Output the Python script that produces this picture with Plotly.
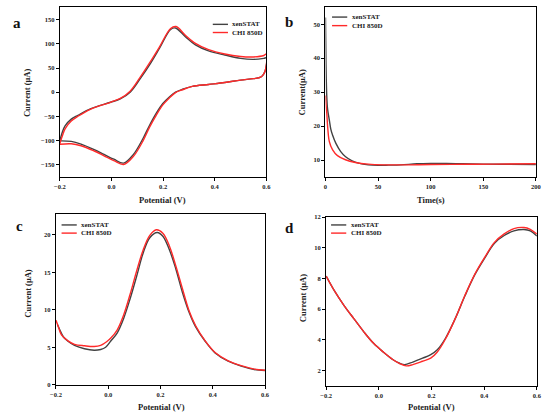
import plotly.graph_objects as go
from plotly.subplots import make_subplots

W, H = 550, 419
SERIF = "Liberation Serif"
GRAY = "#424242"
RED = "#ff2a2a"
names = ["xenSTAT", "CHI 850D"]

# ---- (a) cyclic voltammetry ----
cv_v_xen = [-0.2, -0.19, -0.18, -0.156, -0.13, -0.08, -0.004, 0.034, 0.072, 0.11, 0.148, 0.186,
            0.229, 0.248, 0.286, 0.325, 0.376, 0.439, 0.5, 0.55, 0.59, 0.6,
            0.598, 0.59, 0.578, 0.55, 0.5, 0.439, 0.376, 0.313, 0.275, 0.248, 0.222, 0.198,
            0.173, 0.148, 0.123, 0.085, 0.047, 0.009, -0.029, -0.067, -0.118, -0.156, -0.2]
cv_i_xen = [-100, -82, -70, -56, -48, -34, -21, -14, 0, 27, 57, 91,
            130, 133, 115, 98, 85.5, 77, 70, 68, 70, 71,
            50, 38, 31, 28, 25, 20, 16, 12, 6, 0, -11, -24,
            -44, -68, -95, -129, -147, -139, -129, -119, -107.6, -102, -101]
cv_v_chi = [-0.2, -0.19, -0.18, -0.156, -0.13, -0.08, -0.004, 0.034, 0.072, 0.11, 0.148, 0.186,
            0.229, 0.25, 0.286, 0.325, 0.376, 0.439, 0.5, 0.55, 0.59, 0.6,
            0.598, 0.59, 0.578, 0.55, 0.5, 0.439, 0.376, 0.313, 0.275, 0.248, 0.222, 0.198,
            0.173, 0.148, 0.123, 0.085, 0.047, 0.009, -0.029, -0.067, -0.118, -0.156, -0.2]
cv_i_chi = [-106, -90, -76, -60, -50, -35, -21, -13, 2, 30, 61, 94,
            132, 136, 118, 101, 88, 79, 74, 73, 76, 79,
            50, 38, 31, 28, 25, 20, 16, 12, 5, -1, -13, -27,
            -48, -72, -100, -133, -150, -142, -132, -122, -111, -107, -108]

# ---- (b) chronoamperometry ----
ca_t_xen = [0, 0.5, 1.2, 2, 3.7, 5, 6.8, 9.9, 14.5, 19.1, 25.3, 31.5, 40.7, 50, 60, 71.6, 87,
            100, 115, 130, 150, 175, 200]
ca_i_xen = [52, 38, 29, 25, 21.7, 19.2, 17.3, 14.9, 12.5, 11, 9.8, 9.1, 8.6, 8.45, 8.5, 8.6, 8.9,
            9.0, 9.0, 8.9, 8.8, 8.75, 8.7]
ca_t_chi = [0, 0.5, 1.2, 2.2, 3.7, 6.8, 11.4, 19, 28.4, 40.7, 56, 80, 100, 130, 160, 200]
ca_i_chi = [29, 26.5, 24, 19.3, 15.4, 13, 11.3, 10.1, 9.3, 8.8, 8.6, 8.6, 8.7, 8.75, 8.8, 8.9]

# ---- (c) DPV ----
dpv_v_xen = [-0.194, -0.185, -0.172, -0.154, -0.129, -0.091, -0.054, -0.029, -0.01, 0.009, 0.034,
             0.059, 0.084, 0.109, 0.134, 0.159, 0.1875, 0.209, 0.234, 0.259, 0.284, 0.309, 0.334,
             0.371, 0.409, 0.459, 0.509, 0.559, 0.6]
dpv_i_xen = [8.0, 7.3, 6.4, 5.8, 5.25, 4.8, 4.6, 4.7, 5.0, 5.8, 6.9,
             8.85, 11.5, 14.5, 17.6, 19.6, 20.3, 19.8, 18.0, 15.4, 12.3, 9.7, 7.75,
             5.8, 4.25, 3.15, 2.5, 2.05, 1.9]
dpv_v_chi = [-0.2, -0.191, -0.179, -0.154, -0.129, -0.091, -0.054, -0.029, -0.004, 0.009, 0.034,
             0.059, 0.084, 0.109, 0.134, 0.159, 0.184, 0.209, 0.234, 0.259, 0.284, 0.309, 0.334,
             0.371, 0.409, 0.459, 0.509, 0.559, 0.6]
dpv_i_chi = [8.6, 7.75, 6.65, 5.85, 5.4, 5.2, 5.1, 5.25, 5.8, 6.2, 7.3,
             9.3, 12.1, 15.2, 18.0, 19.9, 20.65, 20.2, 18.5, 15.8, 12.8, 9.9, 7.9,
             5.85, 4.3, 3.2, 2.55, 2.1, 1.95]

# ---- (d) SWV ----
swv_v_xen = [-0.2, -0.169, -0.132, -0.095, -0.057, -0.02, 0.017, 0.054, 0.079, 0.098, 0.129,
             0.166, 0.197, 0.222, 0.253, 0.29, 0.327, 0.365, 0.402, 0.439, 0.476, 0.513, 0.551,
             0.575, 0.6]
swv_i_xen = [8.15, 7.2, 6.23, 5.38, 4.52, 3.77, 3.2, 2.7, 2.47, 2.38, 2.55,
             2.8, 3.03, 3.35, 4.1, 5.38, 6.87, 8.26, 9.33, 10.3, 10.8, 11.1, 11.19,
             11.1, 10.76]
swv_v_chi = [-0.2, -0.169, -0.132, -0.095, -0.057, -0.02, 0.017, 0.054, 0.079, 0.104, 0.129,
             0.166, 0.197, 0.222, 0.253, 0.29, 0.327, 0.365, 0.402, 0.439, 0.476, 0.513, 0.551,
             0.575, 0.6]
swv_i_chi = [8.15, 7.2, 6.23, 5.38, 4.52, 3.77, 3.2, 2.7, 2.45, 2.3, 2.38,
             2.6, 2.8, 3.2, 4.05, 5.38, 6.9, 8.3, 9.38, 10.35, 10.9, 11.25, 11.32,
             11.2, 10.9]


def px(x):
    return x / W


def py(y):
    return 1 - y / H


fig = make_subplots(rows=2, cols=2)

panels = [
    (1, 1, (cv_v_xen, cv_i_xen), (cv_v_chi, cv_i_chi)),
    (1, 2, (ca_t_xen, ca_i_xen), (ca_t_chi, ca_i_chi)),
    (2, 1, (dpv_v_xen, dpv_i_xen), (dpv_v_chi, dpv_i_chi)),
    (2, 2, (swv_v_xen, swv_i_xen), (swv_v_chi, swv_i_chi)),
]
for r, c, xen, chi in panels:
    fig.add_trace(go.Scatter(x=xen[0], y=xen[1], mode="lines", name=names[0],
                             line=dict(color=GRAY, width=1.4, shape="spline", smoothing=1.0),
                             showlegend=False), row=r, col=c)
    fig.add_trace(go.Scatter(x=chi[0], y=chi[1], mode="lines", name=names[1],
                             line=dict(color=RED, width=1.4, shape="spline", smoothing=1.0),
                             showlegend=False), row=r, col=c)

axis_style = dict(showline=True, mirror=True, linecolor="black", linewidth=1.2,
                  ticks="outside", ticklen=3, tickwidth=1, tickcolor="black",
                  showgrid=False, zeroline=False,
                  tickfont=dict(family=SERIF, size=6.5, color="#222", weight="bold"))

fig.update_layout(
    xaxis=dict(axis_style, domain=[px(55), px(265.7)], range=[-0.2, 0.6], dtick=0.2, tickformat=".1f"),
    yaxis=dict(axis_style, domain=[py(176), py(3.3)], range=[-176, 176], dtick=50),
    xaxis2=dict(axis_style, domain=[px(326), px(540.7)], range=[0, 200], dtick=50),
    yaxis2=dict(axis_style, domain=[py(176), py(3.3)], range=[5, 55], dtick=10),
    xaxis3=dict(axis_style, domain=[px(51), px(264.3)], range=[-0.2, 0.6], dtick=0.2, tickformat=".1f"),
    yaxis3=dict(axis_style, domain=[py(387.3), py(214)], range=[0, 22.7], dtick=5),
    xaxis4=dict(axis_style, domain=[px(326.7), px(541.7)], range=[-0.2, 0.6], dtick=0.2, tickformat=".1f"),
    yaxis4=dict(axis_style, domain=[py(388.3), py(216.7)], range=[1, 12], dtick=2),
    width=W, height=H,
    margin=dict(l=0, r=0, t=0, b=0),
    paper_bgcolor="white", plot_bgcolor="white",
    showlegend=False,
)

title_font = dict(family=SERIF, size=8.5, color="#222", weight="bold")

# axis titles
titles = [
    ("Current (\u03bcA)", 22, 90, -90),
    ("Potential (V)", 160, 199, 0),
    ("Current(\u03bcA)", 303, 90, -90),
    ("Time(s)", 433.7, 199, 0),
    ("Current (\u03bcA)", 23, 294, -90),
    ("Potential (V)", 158.3, 410, 0),
    ("Current (\u03bcA)", 303.3, 299, -90),
    ("Potential (V)", 434, 410, 0),
]
for text, x, y, ang in titles:
    fig.add_annotation(text=text, x=px(x), y=py(y), xref="paper", yref="paper",
                       showarrow=False, textangle=ang, font=title_font,
                       xanchor="center", yanchor="middle")

# panel letters
for letter, x, y in [("a", 11, 19), ("b", 289, 18), ("c", 14, 226), ("d", 289, 228)]:
    fig.add_annotation(text=letter, x=px(x), y=py(y), xref="paper", yref="paper",
                       showarrow=False, font=dict(family=SERIF, size=15, color="#111", weight="bold"),
                       xanchor="center", yanchor="middle")

# legends
legends = [(211, 20.7, 29), (332.7, 13.3, 22), (56.7, 224.7, 233), (331.7, 224.7, 233)]
for x0, y1, y2 in legends:
    for name, color, yy in [(names[0], GRAY, y1), (names[1], RED, y2)]:
        fig.add_shape(type="line", xref="paper", yref="paper",
                      x0=px(x0), x1=px(x0 + 15.5), y0=py(yy), y1=py(yy),
                      line=dict(color=color, width=1.4))
        fig.add_annotation(text=name, x=px(x0 + 18), y=py(yy), xref="paper", yref="paper",
                           showarrow=False, xanchor="left", yanchor="middle",
                           font=dict(family=SERIF, size=7, color="#222", weight="bold"))

# drop the page margin so the figure sits at the window origin
fig.write_html("out.html", config={"displayModeBar": False},
               post_script="document.body.style.margin='0px';")
